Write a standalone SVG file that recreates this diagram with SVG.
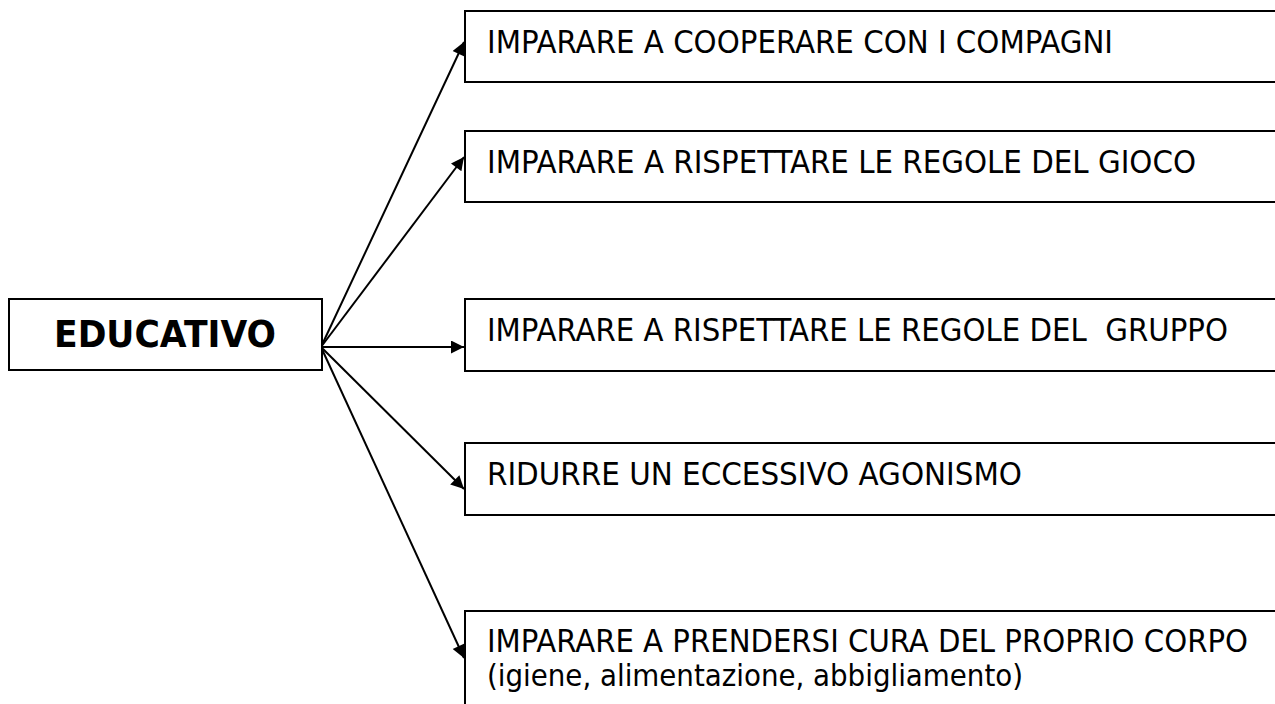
<svg xmlns="http://www.w3.org/2000/svg" width="1275" height="704" viewBox="0 0 1275 704">
<style>
.box{fill:#fff;stroke:#000;stroke-width:2}
.t{font-family:"DejaVu Sans Condensed","DejaVu Sans",sans-serif;font-size:32px;fill:#000}
.s{font-family:"DejaVu Sans Condensed","DejaVu Sans",sans-serif;font-size:30px;fill:#000}
.b{font-family:"DejaVu Sans","Liberation Sans",sans-serif;font-size:37px;font-weight:bold;fill:#000}
.c{stroke:#000;stroke-width:2;fill:none;marker-end:url(#ah)}
</style>
<defs>
<marker id="ah" viewBox="0 0 10 10" refX="10" refY="5" markerWidth="7.5" markerHeight="6.5" markerUnits="strokeWidth" orient="auto">
<path d="M0,0 L10,5 L0,10 z" fill="#000"/>
</marker>
</defs>
<rect width="1275" height="704" fill="#fff"/>
<g id="connectors">
<line class="c" x1="321" y1="347" x2="464" y2="42"/>
<line class="c" x1="321" y1="347" x2="464" y2="157"/>
<line class="c" x1="321" y1="347" x2="464" y2="347"/>
<line class="c" x1="321" y1="347" x2="464" y2="489"/>
<line class="c" x1="321" y1="347" x2="464" y2="658"/>
</g>
<g id="educativo">
<rect class="box" x="9" y="299" width="313" height="71"/>
<text class="b" x="54" y="347" textLength="222" lengthAdjust="spacingAndGlyphs">EDUCATIVO</text>
</g>
<g id="n1">
<rect class="box" x="465" y="11" width="815" height="71"/>
<text class="t" x="487" y="53" textLength="626" lengthAdjust="spacingAndGlyphs">IMPARARE A COOPERARE CON I COMPAGNI</text>
</g>
<g id="n2">
<rect class="box" x="465" y="131" width="815" height="71"/>
<text class="t" x="487" y="173" textLength="709" lengthAdjust="spacingAndGlyphs">IMPARARE A RISPETTARE LE REGOLE DEL GIOCO</text>
</g>
<g id="n3">
<rect class="box" x="465" y="299" width="815" height="72"/>
<text class="t" x="487" y="341" textLength="741" lengthAdjust="spacingAndGlyphs" xml:space="preserve">IMPARARE A RISPETTARE LE REGOLE DEL  GRUPPO</text>
</g>
<g id="n4">
<rect class="box" x="465" y="443" width="815" height="72"/>
<text class="t" x="487" y="485" textLength="535" lengthAdjust="spacingAndGlyphs">RIDURRE UN ECCESSIVO AGONISMO</text>
</g>
<g id="n5">
<rect class="box" x="465" y="611" width="815" height="110"/>
<text class="t" x="487" y="652" textLength="761" lengthAdjust="spacingAndGlyphs">IMPARARE A PRENDERSI CURA DEL PROPRIO CORPO</text>
<text class="s" x="487" y="686" textLength="536" lengthAdjust="spacingAndGlyphs">(igiene, alimentazione, abbigliamento)</text>
</g>
</svg>
